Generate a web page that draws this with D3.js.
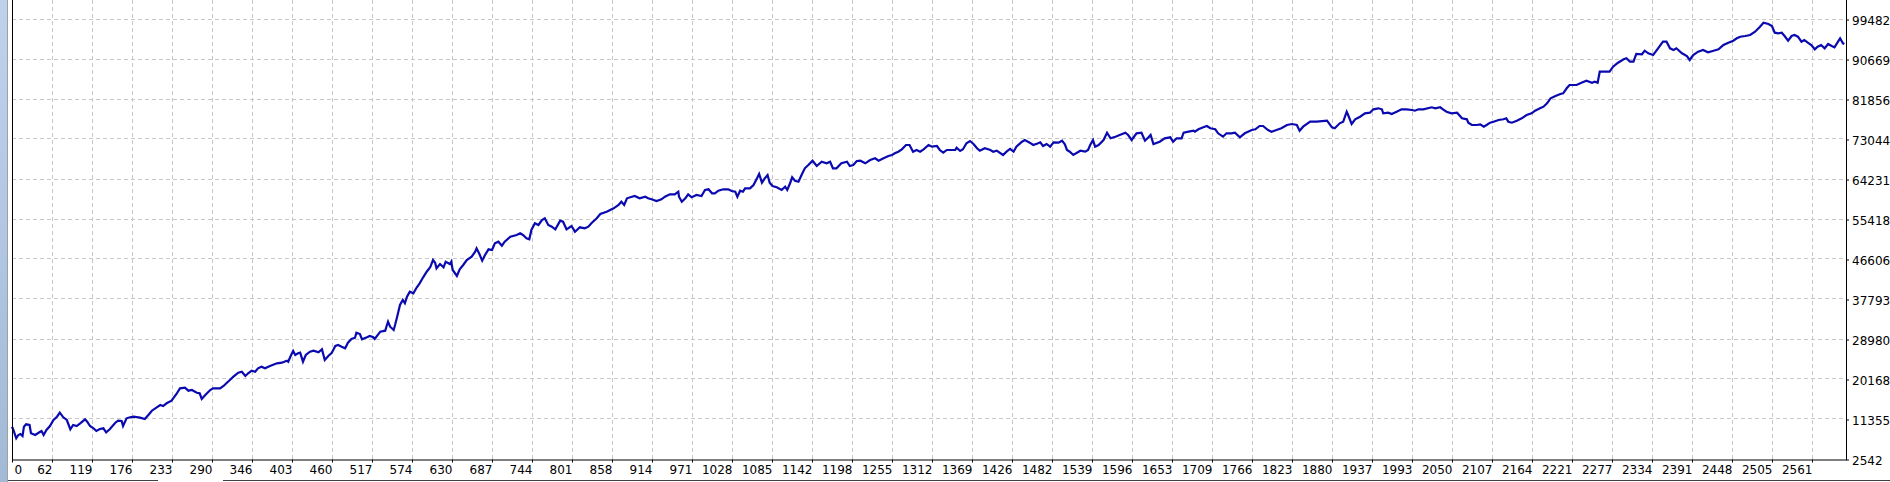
<!DOCTYPE html>
<html>
<head>
<meta charset="utf-8">
<script src="https://d3js.org/d3.v7.min.js"></script>
<style>
  body { margin: 0; background: #ffffff; overflow: hidden; }
  svg { display: block; }
  .lbl { font-family: Tahoma, "DejaVu Sans", sans-serif; font-size: 12px; fill: #000; }
</style>
</head>
<body>
<svg id="chart" width="1890" height="482"></svg>
<script>
// trade number (x) and balance (y)
const trades = [0,2,6,9,12,15,17,20,25,27,33,39,42,45,49,54,59,64,68,73,78,83,87,92,97,104,107,111,116,120,125,130,134,139,147,151,156,158,163,168,173,182,189,194,199,206,211,215,220,227,234,239,246,251,256,263,267,270,275,282,286,296,301,305,310,315,322,327,332,336,341,346,350,355,360,367,377,384,391,393,396,400,403,407,410,414,418,424,429,436,441,445,450,455,460,464,469,474,478,483,488,490,495,498,505,509,514,516,524,531,533,535,538,543,545,548,552,556,559,562,566,571,576,580,585,590,595,599,602,604,609,614,617,623,625,627,633,637,642,647,654,659,661,665,669,673,678,683,687,692,697,701,709,718,723,727,732,736,739,744,749,754,758,763,768,773,780,784,789,796,801,808,815,820,825,832,837,846,856,863,867,871,875,882,886,893,901,905,910,917,924,929,936,943,948,949,953,958,962,967,974,981,986,991,996,1000,1005,1012,1019,1024,1029,1032,1036,1040,1043,1050,1055,1060,1063,1067,1071,1075,1078,1082,1088,1095,1100,1103,1107,1110,1114,1119,1124,1128,1133,1139,1145,1152,1159,1164,1168,1173,1180,1188,1192,1197,1202,1207,1214,1221,1228,1233,1240,1247,1252,1256,1261,1266,1272,1277,1282,1287,1292,1297,1304,1309,1316,1320,1325,1330,1342,1344,1349,1353,1358,1363,1368,1373,1377,1384,1392,1396,1401,1410,1415,1420,1425,1429,1437,1441,1448,1453,1460,1463,1467,1472,1477,1482,1489,1494,1498,1501,1505,1510,1520,1527,1531,1534,1538,1541,1546,1553,1558,1563,1570,1576,1584,1588,1593,1600,1607,1612,1617,1620,1624,1633,1640,1648,1652,1657,1664,1667,1674,1681,1683,1688,1695,1700,1705,1712,1716,1723,1728,1735,1740,1747,1754,1764,1769,1775,1780,1787,1792,1799,1806,1814,1821,1828,1832,1837,1847,1856,1871,1878,1882,1889,1894,1899,1901,1906,1911,1918,1925,1932,1937,1944,1949,1951,1958,1963,1970,1977,1984,1992,1996,2001,2008,2020,2025,2032,2036,2041,2048,2056,2063,2070,2072,2077,2084,2089,2094,2098,2103,2108,2115,2122,2126,2129,2134,2141,2148,2155,2162,2167,2174,2179,2184,2189,2196,2203,2207,2212,2216,2219,2226,2233,2240,2248,2252,2256,2259,2266,2273,2278,2285,2293,2297,2302,2307,2311,2319,2323,2328,2335,2342,2349,2354,2359,2364,2368,2376,2383,2387,2392,2399,2406,2413,2421,2428,2435,2442,2449,2454,2459,2466,2473,2480,2487,2492,2499,2504,2508,2513,2518,2522,2527,2532,2536,2541,2546,2550,2555,2560,2565,2569,2574,2579,2584,2589,2593,2598,2601,2605,2607];
const balance = [9768,9041,7213,7940,8160,7720,9768,10297,10143,8314,7940,8535,8821,7940,9041,9923,11245,11972,12853,11839,11245,9196,10143,9923,10518,11399,10870,9923,9416,8821,9262,9416,8535,9196,10650,11090,11024,9923,11619,11839,11972,11751,11465,12346,13294,14043,14549,14329,14924,15497,16973,18229,18361,17700,17854,17259,17127,15871,16753,17854,18229,18229,18736,19330,20057,20784,21666,21886,20939,21534,22106,21886,22635,22988,22635,23142,23737,23869,24310,24089,25191,26447,25565,25940,26072,24089,25565,26292,26513,26160,26821,24464,25345,26072,27548,27769,27394,27042,28275,29091,29377,30479,30192,29024,29465,29752,29465,29091,30699,30919,31955,32902,31801,31073,32175,34004,36581,37683,36956,38410,39512,39159,40481,41362,42684,43918,44887,46496,45901,44667,45615,44887,46121,45615,46121,44293,42971,44447,45394,46496,47223,48325,49074,47818,46342,47597,48853,48699,50175,50528,49646,50528,51629,52004,52378,52004,51277,51056,53105,54581,54207,55309,55683,54207,53833,53260,55154,54934,53260,53987,52731,53700,53480,53833,54714,55683,56631,57137,57886,58613,59341,58613,60090,60443,60596,60090,60443,60090,59870,59495,59870,60443,60971,60971,61544,60443,59341,60090,60971,60310,60817,60596,61918,62072,61191,61191,61764,62072,62072,61698,61544,60443,61764,61544,62293,62293,63020,64496,65443,63527,64496,65223,63527,62800,62513,61918,62645,61918,63394,64716,63967,63747,65443,66699,67426,68374,67206,68153,67801,68153,66699,66699,67801,68153,67206,67426,68308,68374,67801,68528,68902,68374,68902,69409,69630,70004,70357,70886,71832,71832,70357,70731,70357,70886,71832,71458,71612,70731,70136,70731,70731,71238,70511,70886,72207,72714,72053,71106,70577,71106,70731,70357,70577,69630,70357,70951,70357,71458,72560,72934,72339,71832,72207,72427,71612,72053,71458,72427,72339,72780,71987,70731,70357,69630,70577,70357,70731,71832,72934,71458,71832,72934,74543,73309,73662,74036,74543,74036,72934,74410,74543,72780,73529,74036,72053,72560,73309,73529,72560,73309,73309,74543,74763,74983,74763,75292,75732,76019,75513,75292,74410,73662,74410,74410,74543,73529,74410,75137,75292,76019,76019,75137,74763,75137,75513,76239,76459,76239,74983,75865,76966,76966,77187,75732,75513,76614,76966,79169,78442,76459,77495,78068,78817,78949,79698,79918,79698,78817,78949,78663,79169,79698,79698,79544,79390,79698,79698,80139,79918,80139,79698,79169,78817,78949,77715,77495,76746,76239,76239,76393,75865,76239,76746,76966,77341,77495,77715,76966,76746,77187,77715,78442,78817,79390,79918,80271,81020,82122,82628,83069,83223,84325,85052,85052,85052,85556,85997,85556,85779,85556,87982,87982,87982,89084,89965,90714,90934,90185,90185,91882,91815,92609,92036,91661,93138,94592,94592,93138,92763,93138,92036,91441,90560,91661,92388,92763,92256,92609,92917,93865,94372,94812,95341,95693,95847,96068,96795,97897,98778,98491,98051,96575,96442,96575,95847,94812,95847,96068,95693,94592,94966,94372,93865,92917,93490,93865,93138,94085,93644,93358,94592,95341,94239,94085];

// axis labels as printed by the tester
const xTickLabels = ["0","62","119","176","233","290","346","403","460","517","574","630","687","744","801","858","914","971","1028","1085","1142","1198","1255","1312","1369","1426","1482","1539","1596","1653","1709","1766","1823","1880","1937","1993","2050","2107","2164","2221","2277","2334","2391","2448","2505","2561"];
const yTickLabels = [2542,11355,20168,28980,37793,46606,55418,64231,73044,81856,90669,99482];

const svg = d3.select("#chart");

// frame bits around the plot
const grad = svg.append("defs").append("linearGradient")
  .attr("id", "side").attr("x1", 0).attr("y1", 0).attr("x2", 0).attr("y2", 1);
grad.append("stop").attr("offset", "0%").attr("stop-color", "#bed2ec");
grad.append("stop").attr("offset", "100%").attr("stop-color", "#a2bad6");
svg.append("rect").attr("x", 0).attr("y", 0).attr("width", 7).attr("height", 482).attr("fill", "url(#side)");
svg.append("line").attr("x1", 7.5).attr("x2", 7.5).attr("y1", 0).attr("y2", 482).attr("stroke", "#a0a0a0");

const plotLeft = 12, plotRight = 1846, plotTop = 19.5, plotBottom = 459.5;

// grid lines are spaced every 40px, one per label
const gx = d3.scaleLinear().domain([0, xTickLabels.length - 1]).range([plotLeft, 1812]);
const x = d3.scaleLinear().domain([0, 2561]).range([plotLeft, 1812]);
const y = d3.scaleLinear().domain([2542, 99482]).range([plotBottom, plotTop]);

const grid = svg.append("g").attr("stroke", "#c8c8c8").attr("stroke-dasharray", "4,3")
  .attr("shape-rendering", "crispEdges");
grid.selectAll(".vg").data(d3.range(1, xTickLabels.length)).enter().append("line")
  .attr("x1", d => Math.round(gx(d)) + 0.5).attr("x2", d => Math.round(gx(d)) + 0.5)
  .attr("y1", 0).attr("y2", plotBottom);
grid.selectAll(".hg").data(yTickLabels.slice(1)).enter().append("line")
  .attr("x1", plotLeft).attr("x2", plotRight)
  .attr("y1", d => Math.round(y(d)) - 0.5).attr("y2", d => Math.round(y(d)) - 0.5);

// balance line
const line = d3.line().x((d, i) => x(trades[i])).y(d => y(d));
svg.append("path").datum(balance)
  .attr("d", line)
  .attr("fill", "none")
  .attr("stroke", "#0a0ab0")
  .attr("stroke-width", 2.2)
  .attr("stroke-linejoin", "miter");

// axes
const xAxis = d3.axisBottom(gx)
  .tickValues(d3.range(xTickLabels.length))
  .tickFormat(i => xTickLabels[i])
  .tickSize(3).tickSizeOuter(0);
const gX = svg.append("g").attr("transform", "translate(0," + plotBottom + ")").call(xAxis);
gX.select(".domain").remove();
gX.selectAll(".tick line").attr("stroke", "#000");
gX.selectAll(".tick text")
  .attr("class", "lbl")
  .attr("text-anchor", (d, i) => i === 0 ? "start" : "end")
  .attr("x", (d, i) => i === 0 ? 2 : 0)
  .attr("y", 6).attr("dy", "0.71em");

const yAxis = d3.axisRight(y).tickValues(yTickLabels).tickFormat(d => d).tickSize(3).tickSizeOuter(0);
const gY = svg.append("g").attr("transform", "translate(" + plotRight + ",0)").call(yAxis);
gY.select(".domain").remove();
gY.selectAll(".tick line").attr("stroke", "#000");
gY.selectAll(".tick text").attr("class", "lbl").attr("x", 6).attr("dy", "0.45em");

// plot border: left, bottom, right
svg.append("path")
  .attr("d", "M" + (plotLeft + 0.5) + ",0V" + (plotBottom + 0.5) + "H" + (plotRight + 0.5) + "V0")
  .attr("fill", "none").attr("stroke", "#000");

// status bar edge at the bottom
svg.append("line").attr("x1", 8).attr("x2", 158).attr("y1", 480.5).attr("y2", 480.5).attr("stroke", "#404040");
svg.append("line").attr("x1", 223).attr("x2", 1890).attr("y1", 480.5).attr("y2", 480.5).attr("stroke", "#404040");
</script>
</body>
</html>
